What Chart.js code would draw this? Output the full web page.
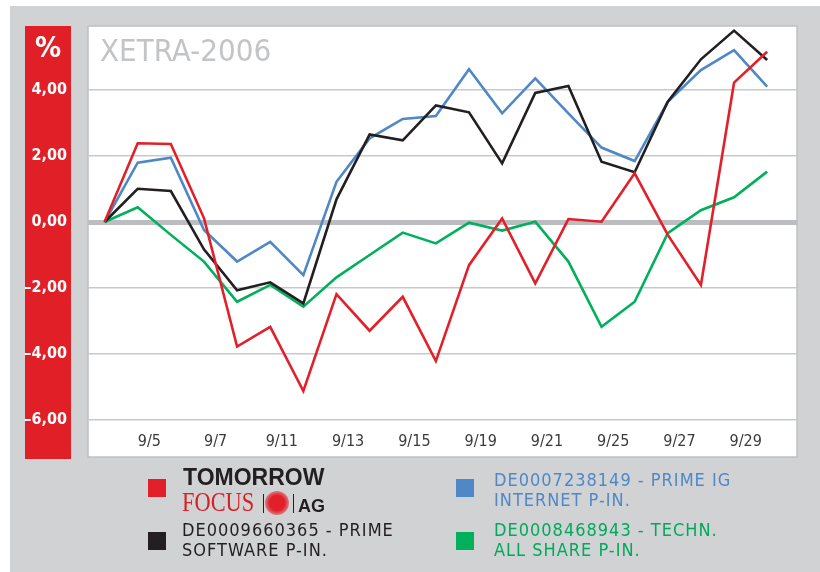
<!DOCTYPE html>
<html>
<head>
<meta charset="utf-8">
<script src="https://cdn.jsdelivr.net/npm/chart.js@4.4.0/dist/chart.umd.min.js"></script>
<style>
html, body { margin: 0; padding: 0; background: #fff; }
#wrap { position: relative; width: 820px; height: 572px; }
#chart { position: absolute; left: 0; top: 0; }
.key { position: absolute; width: 18px; height: 18px; }
.txt { position: absolute; font-family: "DejaVu Sans Condensed", "DejaVu Sans", sans-serif; font-size: 18px; line-height: 20px; letter-spacing: 1px; white-space: nowrap; }
.abs { position: absolute; white-space: nowrap; }
</style>
</head>
<body>
<div id="wrap">
  <canvas id="chart" width="820" height="572"></canvas>

  <div class="key" style="left:148px;top:479px;background:#e2202a"></div>
  <div class="abs" style="left:183px;top:466px;font:bold 23px 'Liberation Sans',Arial,sans-serif;line-height:23px;color:#231f20">TOMORROW</div>
  <div class="abs" style="left:182px;top:488px;font:28px 'Liberation Serif','Times New Roman',serif;line-height:28px;color:#d91f26;transform:scaleX(0.8);transform-origin:0 0">FOCUS</div>
  <div class="abs" style="left:263px;top:494px;width:1px;height:19px;background:#231f20"></div>
  <div class="abs" style="left:265px;top:491px;width:24px;height:24px;border-radius:50%;background:radial-gradient(circle,#e2202a 0,#e2202a 45%,rgba(226,32,42,0.5) 70%,rgba(226,32,42,0) 100%)"></div>
  <div class="abs" style="left:293px;top:494px;width:1px;height:19px;background:#231f20"></div>
  <div class="abs" style="left:298px;top:497px;font:bold 18px 'Liberation Sans',Arial,sans-serif;line-height:18px;color:#231f20">AG</div>

  <div class="key" style="left:148px;top:532px;background:#231f20"></div>
  <div class="txt" style="left:182px;top:520px;color:#231f20">DE0009660365 - PRIME<br>SOFTWARE P-IN.</div>

  <div class="key" style="left:456px;top:479px;background:#4f87c7"></div>
  <div class="txt" style="left:494px;top:470px;color:#4f87c7">DE0007238149 - PRIME IG<br>INTERNET P-IN.</div>

  <div class="key" style="left:456px;top:532px;background:#00b05a"></div>
  <div class="txt" style="left:494px;top:520px;color:#00a95c">DE0008468943 - TECHN.<br>ALL SHARE P-IN.</div>
</div>

<script>
// trading days, September 2006
var days = ["9/1", "9/4", "9/5", "9/6", "9/7", "9/8", "9/11", "9/12", "9/13", "9/14", "9/15",
    "9/18", "9/19", "9/20", "9/21", "9/22", "9/25", "9/26", "9/27", "9/28", "9/29"];
var tickDays = ["9/5", "9/7", "9/11", "9/13", "9/15", "9/19", "9/21", "9/25", "9/27", "9/29"];
var yTicks = [-6, -4, -2, 0, 2, 4];

// change in %
var focusAG = [0, 2.39, 2.37, 0.12, -3.78, -3.18, -5.13, -2.19, -3.30, -2.27, -4.22,
    -1.31, 0.11, -1.86, 0.09, 0.01, 1.48, -0.39, -1.91, 4.23, 5.17];
var primeSoftware = [0, 1.01, 0.94, -0.83, -2.07, -1.83, -2.47, 0.69, 2.66, 2.48, 3.54,
    3.33, 1.78, 3.92, 4.13, 1.83, 1.51, 3.65, 4.94, 5.81, 4.92];
var primeInternet = [0, 1.80, 1.95, -0.24, -1.20, -0.60, -1.61, 1.22, 2.54, 3.13, 3.22,
    4.64, 3.30, 4.36, 3.30, 2.26, 1.85, 3.65, 4.61, 5.22, 4.11];
var techAllShare = [0, 0.45, -0.39, -1.20, -2.42, -1.91, -2.57, -1.68, -1.00, -0.32, -0.65,
    -0.02, -0.26, 0.01, -1.20, -3.18, -2.42, -0.34, 0.36, 0.75, 1.53];

function toPoints(values) {
    return values.map(function (v, i) {
        return { x: i, y: v };
    });
}

function lineSet(label, values, color) {
    return {
        label: label,
        data: toPoints(values),
        borderColor: color,
        borderWidth: 2.6,
        pointRadius: 0,
        tension: 0,
        fill: false
    };
}

var condensed = "'DejaVu Sans Condensed', 'DejaVu Sans', sans-serif";

// gray frame, red axis panel, white plot box, title
var framePlugin = {
    id: "frame",
    beforeDraw: function (chart) {
        var ctx = chart.ctx;
        var area = chart.chartArea;
        var boxBottom = chart.scales.x.bottom;
        ctx.save();
        ctx.fillStyle = "#ffffff";
        ctx.fillRect(0, 0, chart.width, chart.height);
        ctx.fillStyle = "#d1d2d4";
        ctx.fillRect(10, 6, chart.width - 10, chart.height - 6);
        ctx.fillStyle = "#e11f26";
        ctx.fillRect(25, area.top, 46, boxBottom + 2 - area.top);
        ctx.fillStyle = "#ffffff";
        ctx.fillRect(area.left, area.top, area.right - area.left, boxBottom - area.top);
        ctx.strokeStyle = "#bfc0c2";
        ctx.lineWidth = 1.5;
        ctx.strokeRect(area.left, area.top, area.right - area.left, boxBottom - area.top);

        ctx.fillStyle = "#ffffff";
        ctx.font = "bold 29px " + condensed;
        ctx.textAlign = "center";
        ctx.textBaseline = "alphabetic";
        ctx.fillText("%", 48, 57);

        ctx.fillStyle = "#c3c4c6";
        ctx.font = "31px " + condensed;
        ctx.textAlign = "left";
        ctx.fillText("XETRA-2006", area.left + 12, 61);
        ctx.restore();
    }
};

new Chart(document.getElementById("chart").getContext("2d"), {
    type: "line",
    data: {
        datasets: [
            lineSet("TOMORROW FOCUS AG", focusAG, "#e2202a"),
            lineSet("DE0009660365 - PRIME SOFTWARE P-IN.", primeSoftware, "#231f20"),
            lineSet("DE0007238149 - PRIME IG INTERNET P-IN.", primeInternet, "#4f87c7"),
            lineSet("DE0008468943 - TECHN. ALL SHARE P-IN.", techAllShare, "#00b05a")
        ]
    },
    options: {
        responsive: false,
        animation: false,
        layout: { padding: { left: 0, top: 26, right: 23, bottom: 115 } },
        plugins: {
            legend: { display: false },
            title: { display: false },
            tooltip: { enabled: false }
        },
        scales: {
            x: {
                type: "linear",
                min: -0.5,
                max: 20.9,
                afterBuildTicks: function (scale) {
                    scale.ticks = tickDays.map(function (d) {
                        return { value: days.indexOf(d) };
                    });
                },
                afterFit: function (scale) {
                    scale.height = 37.3;
                    scale.paddingLeft = 0;
                    scale.paddingRight = 0;
                },
                grid: { display: false },
                border: { display: false },
                ticks: {
                    autoSkip: false,
                    maxRotation: 0,
                    padding: 5,
                    labelOffset: -21.5,
                    color: "#3a3a3a",
                    font: { family: condensed, size: 16 },
                    callback: function (value) {
                        return days[value];
                    }
                }
            },
            y: {
                min: -6,
                max: 5.95,
                afterBuildTicks: function (scale) {
                    scale.ticks = yTicks.map(function (v) {
                        return { value: v };
                    });
                },
                afterFit: function (scale) {
                    scale.width = 88;
                    scale.paddingTop = 0;
                    scale.paddingBottom = 0;
                },
                border: { display: false },
                grid: {
                    drawTicks: false,
                    color: function (c) {
                        return c.tick && c.tick.value === 0 ? "#bcbdc0" : "#c8c9cb";
                    },
                    lineWidth: function (c) {
                        return c.tick && c.tick.value === 0 ? 5 : 1.5;
                    }
                },
                ticks: {
                    padding: 21,
                    color: "#ffffff",
                    font: { family: condensed, size: 16, weight: "bold" },
                    callback: function (value) {
                        var s = Math.abs(value).toFixed(2).replace(".", ",");
                        return value < 0 ? "\u2013" + s : s;
                    }
                }
            }
        }
    },
    plugins: [framePlugin]
});
</script>
</body>
</html>
